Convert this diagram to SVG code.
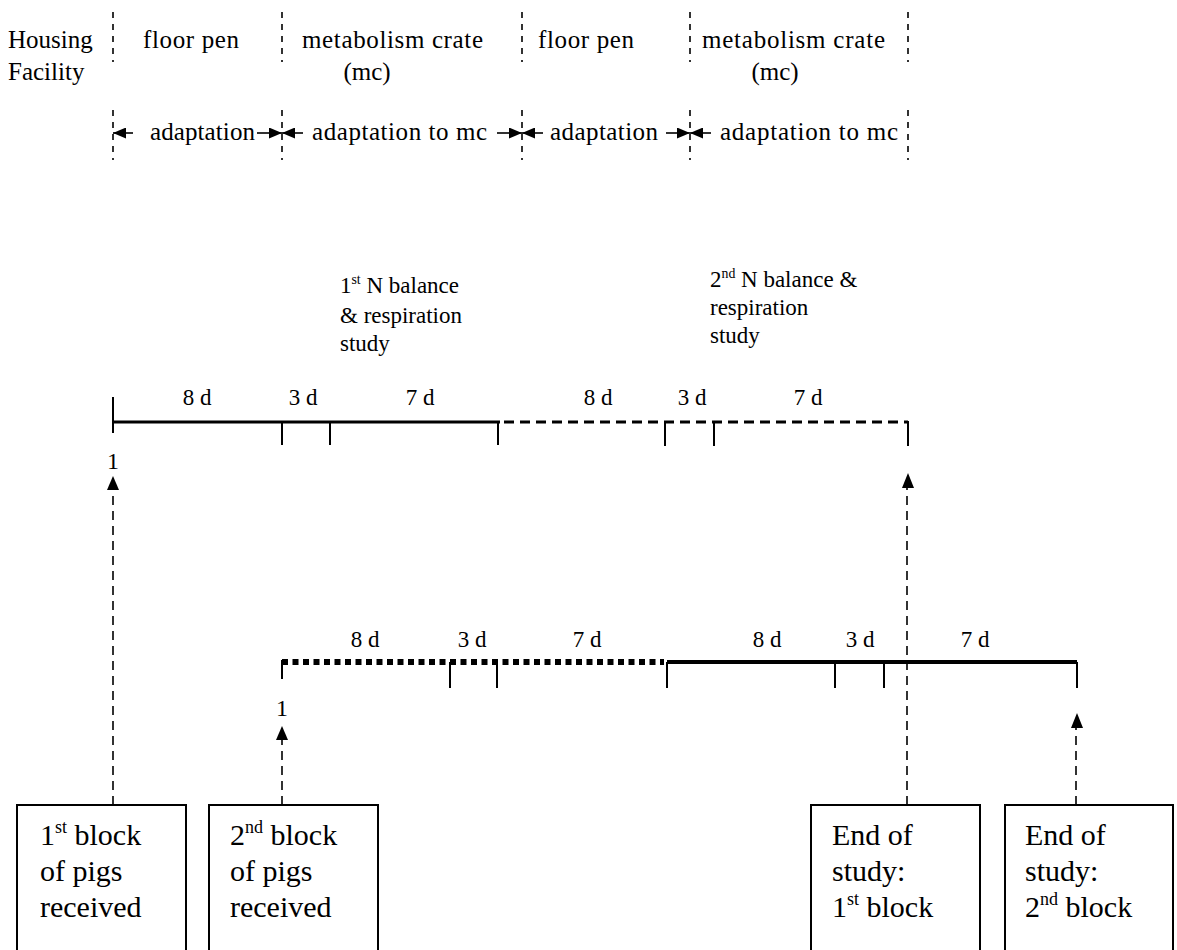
<svg xmlns="http://www.w3.org/2000/svg" width="1177" height="950" viewBox="0 0 1177 950">
  <style>
    text { font-family: "Liberation Serif", "Times New Roman", serif; fill: #000; }
    .hdr { font-size: 25px; }
    .adp { font-size: 25px; }
    .study { font-size: 23px; }
    .dur { font-size: 23px; }
    .one { font-size: 24px; }
    .box { font-size: 30px; }
    .sup { font-size: 0.6em; }
    .sep { stroke: #000; stroke-width: 1.6; stroke-dasharray: 6 6; fill: none; }
    .lead { stroke: #000; stroke-width: 1.6; fill: none; }
    .conn { stroke: #000; stroke-width: 1.6; stroke-dasharray: 9 6; fill: none; }
    .tick { stroke: #000; stroke-width: 2; fill: none; }
    .solidA { stroke: #000; stroke-width: 3; fill: none; }
    .dashA { stroke: #000; stroke-width: 3; stroke-dasharray: 10 6; fill: none; }
    .dotB { stroke: #000; stroke-width: 6; stroke-dasharray: 6 4.5; fill: none; }
    .solidB { stroke: #000; stroke-width: 4; fill: none; }
    .nodebox { fill: #fff; stroke: #000; stroke-width: 2; }
  </style>
  <defs>
    <marker id="tri" viewBox="0 0 13 11" refX="13" refY="5.5" markerWidth="13" markerHeight="11" markerUnits="userSpaceOnUse" orient="auto">
      <path d="M0,0 L13,5.5 L0,11 Z" fill="#000"/>
    </marker>
  </defs>

  <!-- housing facility header -->
  <g id="housing">
    <text class="hdr" x="8" y="48">Housing</text>
    <text class="hdr" x="8" y="80">Facility</text>
    <text class="hdr" x="143" y="48" textLength="96">floor pen</text>
    <text class="hdr" x="302" y="48" textLength="181">metabolism crate</text>
    <text class="hdr" x="367" y="80" text-anchor="middle">(mc)</text>
    <text class="hdr" x="538" y="48" textLength="96">floor pen</text>
    <text class="hdr" x="702" y="48" textLength="183">metabolism crate</text>
    <text class="hdr" x="775" y="80" text-anchor="middle">(mc)</text>
  </g>

  <!-- period separators -->
  <g id="separators">
    <line class="sep" x1="113" y1="12" x2="113" y2="62"/>
    <line class="sep" x1="282" y1="12" x2="282" y2="62"/>
    <line class="sep" x1="522" y1="12" x2="522" y2="62"/>
    <line class="sep" x1="690" y1="12" x2="690" y2="62"/>
    <line class="sep" x1="908" y1="12" x2="908" y2="62"/>
    <line class="sep" x1="113" y1="110" x2="113" y2="160"/>
    <line class="sep" x1="282" y1="110" x2="282" y2="160"/>
    <line class="sep" x1="522" y1="110" x2="522" y2="160"/>
    <line class="sep" x1="690" y1="110" x2="690" y2="160"/>
    <line class="sep" x1="908" y1="110" x2="908" y2="160"/>
  </g>

  <!-- adaptation periods -->
  <g id="adaptation">
    <line class="lead" x1="133" y1="133" x2="113" y2="133" marker-end="url(#tri)"/>
    <text class="adp" x="150" y="140" textLength="105">adaptation</text>
    <line class="lead" x1="257" y1="133" x2="282" y2="133" marker-end="url(#tri)"/>
    <line class="lead" x1="303" y1="133" x2="282" y2="133" marker-end="url(#tri)"/>
    <text class="adp" x="312" y="140" textLength="175">adaptation to mc</text>
    <line class="lead" x1="497" y1="133" x2="522" y2="133" marker-end="url(#tri)"/>
    <line class="lead" x1="543" y1="133" x2="522" y2="133" marker-end="url(#tri)"/>
    <text class="adp" x="550" y="140" textLength="108">adaptation</text>
    <line class="lead" x1="666" y1="133" x2="690" y2="133" marker-end="url(#tri)"/>
    <line class="lead" x1="711" y1="133" x2="690" y2="133" marker-end="url(#tri)"/>
    <text class="adp" x="720" y="140" textLength="178">adaptation to mc</text>
  </g>

  <!-- study labels -->
  <g id="study1">
    <text class="study" x="340" y="293">1<tspan class="sup" dy="-9">st</tspan><tspan dy="9"> N balance</tspan></text>
    <text class="study" x="340" y="323">&amp; respiration</text>
    <text class="study" x="340" y="351">study</text>
  </g>
  <g id="study2">
    <text class="study" x="710" y="287">2<tspan class="sup" dy="-9">nd</tspan><tspan dy="9"> N balance &amp;</tspan></text>
    <text class="study" x="710" y="315">respiration</text>
    <text class="study" x="710" y="343">study</text>
  </g>

  <!-- timeline of the first block -->
  <g id="timeline1">
    <line class="solidA" x1="113" y1="422" x2="500" y2="422"/>
    <line class="dashA" x1="504" y1="422" x2="908" y2="422"/>
    <line class="tick" x1="113" y1="397" x2="113" y2="433"/>
    <line class="tick" x1="282" y1="422" x2="282" y2="445"/>
    <line class="tick" x1="330" y1="422" x2="330" y2="445"/>
    <line class="tick" x1="498" y1="422" x2="498" y2="445"/>
    <line class="tick" x1="665" y1="422" x2="665" y2="446"/>
    <line class="tick" x1="714" y1="422" x2="714" y2="446"/>
    <line class="tick" x1="908" y1="421" x2="908" y2="446"/>
    <text class="dur" x="197" y="405" text-anchor="middle">8 d</text>
    <text class="dur" x="303" y="405" text-anchor="middle">3 d</text>
    <text class="dur" x="420" y="405" text-anchor="middle">7 d</text>
    <text class="dur" x="598" y="405" text-anchor="middle">8 d</text>
    <text class="dur" x="692" y="405" text-anchor="middle">3 d</text>
    <text class="dur" x="808" y="405" text-anchor="middle">7 d</text>
    <text class="one" x="113" y="469" text-anchor="middle">1</text>
  </g>

  <!-- timeline of the second block -->
  <g id="timeline2">
    <line class="dotB" x1="282" y1="662" x2="664" y2="662"/>
    <line class="solidB" x1="667" y1="662" x2="1077" y2="662"/>
    <line class="tick" x1="282" y1="660" x2="282" y2="679"/>
    <line class="tick" x1="450" y1="662" x2="450" y2="688"/>
    <line class="tick" x1="497" y1="662" x2="497" y2="688"/>
    <line class="tick" x1="667" y1="662" x2="667" y2="688"/>
    <line class="tick" x1="835" y1="662" x2="835" y2="688"/>
    <line class="tick" x1="884" y1="662" x2="884" y2="688"/>
    <line class="tick" x1="1077" y1="662" x2="1077" y2="688"/>
    <text class="dur" x="365" y="647" text-anchor="middle">8 d</text>
    <text class="dur" x="472" y="647" text-anchor="middle">3 d</text>
    <text class="dur" x="587" y="647" text-anchor="middle">7 d</text>
    <text class="dur" x="767" y="647" text-anchor="middle">8 d</text>
    <text class="dur" x="860" y="647" text-anchor="middle">3 d</text>
    <text class="dur" x="975" y="647" text-anchor="middle">7 d</text>
    <text class="one" x="282" y="716" text-anchor="middle">1</text>
  </g>

  <!-- connectors from event boxes to the timelines -->
  <g id="connectors">
    <line class="conn" x1="113" y1="805" x2="113" y2="490"/>
    <path d="M113,476 L119,490 L107,490 Z" fill="#000"/>
    <line class="conn" x1="282" y1="805" x2="282" y2="740"/>
    <path d="M282,726 L288,740 L276,740 Z" fill="#000"/>
    <line class="conn" x1="907" y1="805" x2="907" y2="488"/>
    <path d="M908,473 L914,488 L902,488 Z" fill="#000"/>
    <line class="conn" x1="1076" y1="805" x2="1076" y2="728"/>
    <path d="M1077,713 L1083,728 L1071,728 Z" fill="#000"/>
  </g>

  <!-- event boxes -->
  <g id="block1-received">
    <rect class="nodebox" x="17" y="805" width="169" height="150"/>
    <text class="box" x="40" y="845">1<tspan class="sup" dy="-12">st</tspan><tspan dy="12"> block</tspan></text>
    <text class="box" x="40" y="881">of pigs</text>
    <text class="box" x="40" y="917">received</text>
  </g>
  <g id="block2-received">
    <rect class="nodebox" x="209" y="805" width="169" height="150"/>
    <text class="box" x="230" y="845">2<tspan class="sup" dy="-12">nd</tspan><tspan dy="12"> block</tspan></text>
    <text class="box" x="230" y="881">of pigs</text>
    <text class="box" x="230" y="917">received</text>
  </g>
  <g id="block1-end">
    <rect class="nodebox" x="811" y="805" width="169" height="150"/>
    <text class="box" x="832" y="845">End of</text>
    <text class="box" x="832" y="881">study:</text>
    <text class="box" x="832" y="917">1<tspan class="sup" dy="-12">st</tspan><tspan dy="12"> block</tspan></text>
  </g>
  <g id="block2-end">
    <rect class="nodebox" x="1005" y="805" width="168" height="150"/>
    <text class="box" x="1025" y="845">End of</text>
    <text class="box" x="1025" y="881">study:</text>
    <text class="box" x="1025" y="917">2<tspan class="sup" dy="-12">nd</tspan><tspan dy="12"> block</tspan></text>
  </g>
</svg>
